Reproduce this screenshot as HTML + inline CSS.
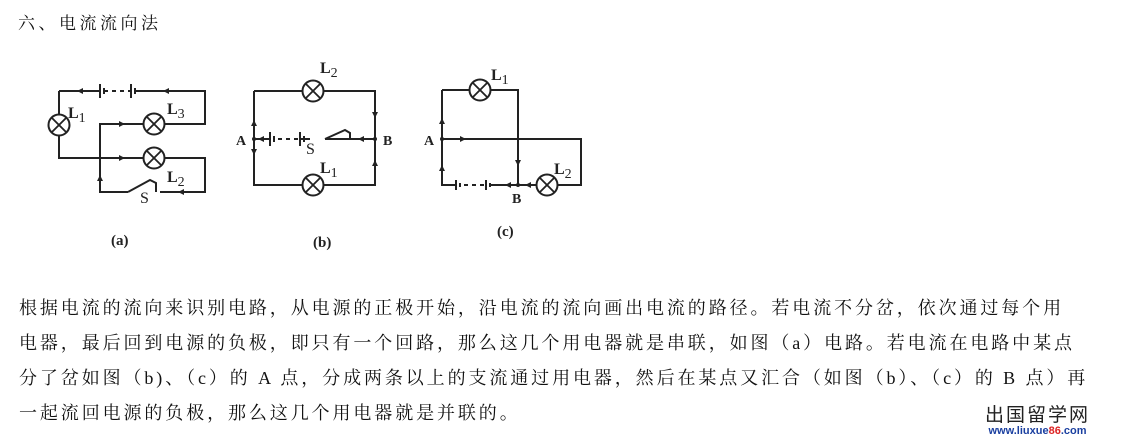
<!DOCTYPE html>
<html><head><meta charset="utf-8"><style>
body{margin:0;width:1129px;height:445px;background:#fff;overflow:hidden;position:relative;font-family:"Liberation Serif","Noto Serif CJK SC","Noto Sans CJK SC",serif;color:#111}
.t{position:absolute;left:18px;top:9px;font-size:17px;letter-spacing:3.5px;white-space:nowrap}
.p{position:absolute;left:19px;font-size:18px;letter-spacing:2.9px;white-space:nowrap;line-height:24px}
.w{position:absolute;left:985px;top:404px;text-align:center;font-family:"Liberation Sans","Noto Sans CJK SC",sans-serif}
</style></head><body>
<div class="t">六、电流流向法</div>
<svg width="1129" height="290" style="position:absolute;left:0;top:0" font-family="Liberation Serif,serif" font-weight="bold">
<defs>
<g id="lamp"><circle r="10.5" fill="#fff" stroke="#222" stroke-width="2"/><path d="M-7.4-7.4L7.4 7.4M-7.4 7.4L7.4-7.4" stroke="#222" stroke-width="1.8"/></g>
</defs>
<g stroke="#222" stroke-width="2" fill="none">
<!-- (a) -->
<path d="M59 91H100M136 91H205V124H162M146 124H100V192H128M160 192H205V158H162M146 158H59V133M59 117V91"/>
<path d="M100 84v14M104 88v6M104 91h4M112 91h4M120 91h4M128 91h3M131 84v14M135 88v6"/>
<path d="M128 192L150 180L156 183V192"/>
<!-- (b) -->
<path d="M254 91H305M321 91H375V185H321M305 185H254V91M254 139H270M304 139H300M325 139H375"/>
<path d="M270 132v14M274 136v6M278 139h4M286 139h4M294 139h4M300 132v14M304 136v6M304 139h6"/>
<path d="M325 139L345 130L350 133V139"/>
<!-- (c) -->
<path d="M442 90H472M488 90H518V185M442 90V185H456M442 139H581V185H555M539 185H490"/>
<path d="M456 180v10M460 183v4M464 185h4M472 185h4M480 185h4M486 180v10M490 183v4"/>
</g>
<g fill="#222">
<path d="M77 91l6-3v6zM163 91l6-3v6z"/>
<path d="M125 124l-6-3v6zM125 158l-6-3v6zM100 175l-3 6h6z"/>
<path d="M178 192l6-3v6z"/>
<path d="M254 120l-3 6h6zM254 155l-3-6h6zM375 118l-3-6h6zM375 160l-3 6h6zM358 139l6-3v6zM258 139l6-3v6z"/>
<path d="M442 118l-3 6h6zM442 165l-3 6h6zM466 139l-6-3v6zM518 166l-3-6h6zM505 185l6-3v6zM525 185l6-3v6z"/>
<circle cx="254" cy="139" r="2"/><circle cx="375" cy="139" r="2"/><circle cx="442" cy="139" r="2"/><circle cx="518" cy="185" r="2"/>
</g>
<use href="#lamp" x="59" y="125"/><use href="#lamp" x="154" y="124"/><use href="#lamp" x="154" y="158"/>
<use href="#lamp" x="313" y="91"/><use href="#lamp" x="313" y="185"/>
<use href="#lamp" x="480" y="90"/><use href="#lamp" x="547" y="185"/>
<g font-size="16" fill="#222">
<text x="68" y="118">L<tspan font-size="14" font-weight="normal" dy="4">1</tspan></text>
<text x="167" y="114">L<tspan font-size="14" font-weight="normal" dy="4">3</tspan></text>
<text x="167" y="182">L<tspan font-size="14" font-weight="normal" dy="4">2</tspan></text>
<text x="140" y="203" font-weight="normal">S</text>
<text x="111" y="245" font-size="15">(a)</text>
<text x="320" y="73">L<tspan font-size="14" font-weight="normal" dy="4">2</tspan></text>
<text x="320" y="173">L<tspan font-size="14" font-weight="normal" dy="4">1</tspan></text>
<text x="306" y="154" font-weight="normal">S</text>
<text x="236" y="145" font-size="14">A</text>
<text x="383" y="145" font-size="14">B</text>
<text x="313" y="247" font-size="15">(b)</text>
<text x="491" y="80">L<tspan font-size="14" font-weight="normal" dy="4">1</tspan></text>
<text x="554" y="174">L<tspan font-size="14" font-weight="normal" dy="4">2</tspan></text>
<text x="424" y="145" font-size="14">A</text>
<text x="512" y="203" font-size="14">B</text>
<text x="497" y="236" font-size="15">(c)</text>
</g>
</svg>
<div class="p" style="top:296px">根据电流的流向来识别电路，从电源的正极开始，沿电流的流向画出电流的路径。若电流不分岔，依次通过每个用</div>
<div class="p" style="top:331px">电器，最后回到电源的负极，即只有一个回路，那么这几个用电器就是串联，如图（a）电路。若电流在电路中某点</div>
<div class="p" style="top:366px">分了岔如图（b)、（c）的 A 点，分成两条以上的支流通过用电器，然后在某点又汇合（如图（b）、（c）的 B 点）再</div>
<div class="p" style="top:401px">一起流回电源的负极，那么这几个用电器就是并联的。</div>
<div class="w"><div style="font-size:19px;letter-spacing:2px;color:#222;font-family:'Noto Sans CJK SC',sans-serif;line-height:20px">出国留学网</div><div style="font-size:11px;color:#1a3fa0;font-weight:bold;line-height:14px">www.liuxue<span style="color:#d22">86</span>.com</div></div>
</body></html>
